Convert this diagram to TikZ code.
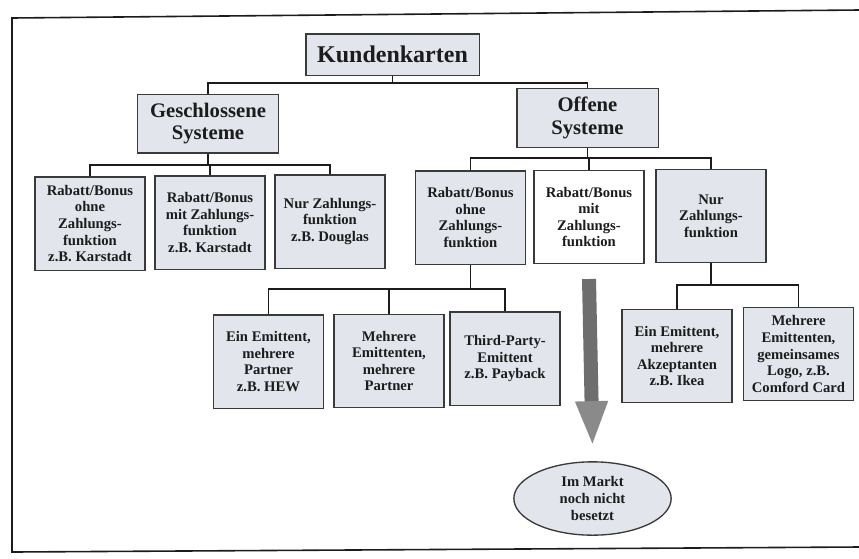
\documentclass[tikz,border=0pt]{standalone}
\usepackage{fontspec}
\setmainfont{Liberation Serif}
\usepackage{tikz}
\usetikzlibrary{shapes.geometric, arrows.meta}

\definecolor{cardfill}{HTML}{E2E5EB}
\definecolor{cardline}{HTML}{3A3A3A}
\definecolor{inkcol}{HTML}{1C1C1C}
\definecolor{shaftcol}{HTML}{6E6E6E}
\definecolor{headcol}{HTML}{8A8A8A}

\tikzset{
  card/.style={draw=cardline, line width=1pt, fill=cardfill, text=inkcol,
    align=center, inner sep=1pt, minimum width=82.5pt, minimum height=70pt,
    font=\bfseries\fontsize{11}{12.4}\selectfont},
  bigcard/.style={card, minimum width=106pt, minimum height=44pt,
    font=\bfseries\fontsize{15.5}{17}\selectfont},
  conn/.style={draw=inkcol, line width=1.1pt}
}

\begin{document}
\begin{tikzpicture}[x=0.75pt, y=-0.75pt]
			\useasboundingbox (0,0) rectangle (859,558);
			
			% Draw the outer frame
			\draw[line width=1.2pt, draw=inkcol] (859,10) -- (12,18) -- (12,552) -- (859,547);
			
			% Top and second level
			\node[card, minimum width=130pt, minimum height=31pt,
			  font=\bfseries\fontsize{18}{20}\selectfont] (kk) at (392.5,54.5) {Kundenkarten};
			\node[bigcard] (gs) at (208,123.5) {Geschlossene\\Systeme};
			\node[bigcard] (os) at (587.5,118) {Offene\\Systeme};
			
			% Geschlossene Systeme children
			\node[card] (r1a) at (90,223.5) {Rabatt/Bonus\\ohne\\Zahlungs-\\funktion\\z.B. Karstadt};
			\node[card] (r1b) at (210,222.5) {Rabatt/Bonus\\mit Zahlungs-\\funktion\\z.B. Karstadt};
			\node[card] (r1c) at (330,221.5) {Nur Zahlungs-\\funktion\\z.B. Douglas};
			
			% Offene Systeme children
			\node[card] (r1d) at (470.5,217.5) {Rabatt/Bonus\\ohne\\Zahlungs-\\funktion};
			\node[card, fill=white] (r1e) at (589,217) {Rabatt/Bonus\\mit\\Zahlungs-\\funktion};
			\node[card] (r1f) at (711,216) {Nur\\Zahlungs-\\funktion};
			
			% Third level
			\node[card] (r2a) at (268.5,361.5) {Ein Emittent,\\mehrere\\Partner\\z.B. HEW};
			\node[card] (r2b) at (389,361) {Mehrere\\Emittenten,\\mehrere\\Partner};
			\node[card] (r2c) at (505,358.5) {Third-Party-\\Emittent\\z.B. Payback};
			\node[card] (r2d) at (677,356) {Ein Emittent,\\mehrere\\Akzeptanten\\z.B. Ikea};
			\node[card] (r2e) at (798.5,354) {Mehrere\\Emittenten,\\gemeinsames\\Logo, z.B.\\Comford Card};
			
			% Not yet occupied
			\node[card, ellipse, minimum width=118pt, minimum height=55pt, inner sep=0pt]
			  (ell) at (592.5,498.5) {Im Markt\\noch nicht\\besetzt};
			
			% Bus points of the tree
			\coordinate (kkbus) at (392.5,83);
			\coordinate (gsbus) at (208,165);
			\coordinate (osbus) at (587.5,158);
			\coordinate (r1dbus) at (470.5,289);
			\coordinate (r1fbus) at (711,285);
			
			% Draw the connectors
			\draw[conn] (kk.south) -- (kkbus);
			\foreach \c in {gs,os}
			\draw[conn] (kkbus) -| (\c.north);
			\draw[conn] (gs.south) -- (gsbus);
			\foreach \c in {r1a,r1b,r1c}
			\draw[conn] (gsbus) -| (\c.north);
			\draw[conn] (os.south) -- (osbus);
			\foreach \c in {r1d,r1e,r1f}
			\draw[conn] (osbus) -| (\c.north);
			\draw[conn] (r1d.south) -- (r1dbus);
			\foreach \c in {r2a,r2b,r2c}
			\draw[conn] (r1dbus) -| (\c.north);
			\draw[conn] (r1f.south) -- (r1fbus);
			\foreach \c in {r2d,r2e}
			\draw[conn] (r1fbus) -| (\c.north);
			
			% Big arrow down to the ellipse
			\draw[draw=shaftcol, line width=10.5pt,
			  -{Triangle[width=22pt, length=34pt, fill=headcol, color=headcol]}]
			  ([yshift=-11pt]r1e.south) -- ([yshift=11pt]ell.north);
		\end{tikzpicture}
\end{document}
